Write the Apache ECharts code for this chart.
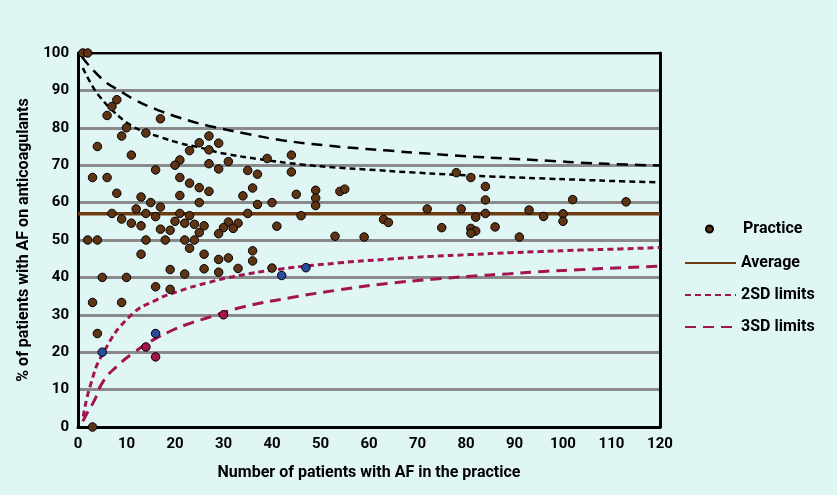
<!DOCTYPE html>
<html>
<head>
<meta charset="utf-8">
<script src="https://cdn.jsdelivr.net/npm/echarts@6/dist/echarts.min.js"></script>
<style>
html,body{margin:0;padding:0;background:#e0f6f5;}
#chart{width:837px;height:495px;}
</style>
</head>
<body>
<div id="chart"></div>
<script>
// ---- data ----
const xTicks = [0,10,20,30,40,50,60,70,80,90,100,110,120];
const yTicks = [0,10,20,30,40,50,60,70,80,90,100];

// practices: [number of AF patients, % on anticoagulants]
const practice = [
  [1,100],[2,100],[8,87.5],[7,85.7],[6,83.3],[17,82.4],[10,80],[14,78.6],[9,77.8],[25,76],
  [4,75],[23,73.9],[11,72.7],[21,71.4],[20,70],[16,68.75],[3,66.7],[6,66.7],[21,66.7],[23,65.2],
  [25,64],[8,62.5],[13,61.5],[21,61.9],[15,60],[25,60],[17,58.8],[12,58.3],[7,57.1],[14,57.1],
  [21,57.1],[23,56.5],[16,56.25],[9,55.6],[11,54.5],[13,53.8],[20,55],[22,54.5],[24,54.2],[26,53.8],
  [17,52.9],[19,52.6],[25,52],[2,50],[4,50],[14,50],[18,50],[22,50],[24,50],[23,47.8],
  [13,46.2],[26,46.2],[19,42.1],[26,42.3],[22,40.9],[5,40],[10,40],[16,37.5],[19,36.8],[3,33.3],
  [9,33.3],[4,25],[3,0],
  [27,77.8],[29,75.9],[27,74.1],[27,70.4],[31,71],[29,69],[39,71.8],[44,72.7],[44,68.2],[35,68.6],
  [37,67.6],[27,63],[36,63.9],[34,61.8],[45,62.2],[49,63.3],[49,61.2],[54,63],[55,63.6],[37,59.5],
  [40,60],[49,59.2],[35,57.1],[46,56.5],[31,54.8],[33,54.5],[30,53.3],[32,53.1],[41,53.7],[29,51.7],
  [53,51],[29,44.8],[31,45.2],[36,47.1],[36,44.4],[29,41.4],[33,42.4],[40,42.5],
  [78,68],[81,66.7],[84,64.3],[84,60.7],[84,57.1],[72,58.3],[79,58.3],[82,56.1],[63,55.5],[64,54.7],
  [75,53.3],[81,53.1],[82,52.4],[81,51.8],[86,53.5],[59,50.8],
  [102,60.8],[113,60.2],[93,58],[96,56.3],[100,57],[100,55],[91,50.8]
];
// practices between the 2SD and 3SD lower limits
const below2SD = [[5,20],[16,25],[42,40.5],[47,42.6]];
// practices below the 3SD lower limit
const below3SD = [[14,21.4],[16,18.75],[30,30]];

const average = [[0,57],[120,57]];

const upper2SD = [[1,96],[3,91.1],[4.7,88],[7.3,84.4],[11,80.6],[14,78.8],[17,77.5],[21,75.9],[24.5,74.9],
  [27,74.1],[29.3,73.3],[37.5,71.6],[46,70.2],[54,69.3],[60,68.8],[68.5,68.1],[76.7,67.5],[85,67],
  [95,66.5],[103.5,66.1],[112,65.7],[120,65.4]];
const upper3SD = [[0.8,99],[5,93],[9,89.6],[12,87.3],[16,85],[20,83.1],[24,81.5],[27,80.5],[34,78.6],
  [42,76.7],[51,75.3],[55,74.8],[64,73.9],[72,73.1],[80,72.4],[88,71.8],[97,71.2],[105,70.6],
  [113,70.2],[120,69.9]];
const lower2SD = [[1.1,2.8],[2.5,10.9],[5.2,19.8],[10.7,29.6],[16.2,34],[21,36.4],[26.5,38.5],[32,40.2],
  [41.6,42.2],[54,43.9],[64.3,44.9],[72.6,45.6],[80.8,46.1],[89.1,46.6],[95.3,46.9],[103.5,47.3],
  [111.8,47.6],[120,48]];
const lower3SD = [[1,1.5],[2,4],[3.3,6.9],[5.2,12.2],[8,16.2],[11.4,19.8],[15.5,23.3],[19,25.6],[22.4,27.4],
  [27.2,29.4],[34,32.1],[44,34.6],[54,36.7],[64,38.4],[73,39.5],[81,40.3],[89,41],[96,41.6],
  [104,42.1],[112,42.6],[120,43]];

// ---- styling ----
const FONT = 'Roboto, "DejaVu Sans", sans-serif';
const BROWN = '#5e3414';
const AVG = '#6e3c12';
const CRIMSON = '#a3154f';
const BLUE = '#2a4c9e';
const txt = {color:'#000', fontFamily:FONT, fontWeight:'bold'};

const chart = echarts.init(document.getElementById('chart'), null, {renderer:'canvas'});

function legendBox(name, left, top, w, h, hideSymbol, textPad){
  const l = {
    data:[name], left:left, top:top, orient:'vertical',
    itemWidth:w, itemHeight:h, padding:0, selectedMode:false,
    textStyle:Object.assign({fontSize:16, padding:[0,0,0,textPad||0]}, txt)
  };
  if (hideSymbol) l.itemStyle = {opacity:0};
  return l;
}

const option = {
  backgroundColor:'#e0f6f5',
  animation:false,
  grid:{left:78, right:177, top:53, bottom:68},
  legend:[
    legendBox('Practice', 705, 221, 7, 7, false, 25),
    legendBox('Average', 684, 255, 51, 14, true),
    legendBox('2SD limits', 684, 287, 51, 14, true),
    legendBox('3SD limits', 684, 319, 51, 14, true)
  ],
  xAxis:[{
    type:'value', min:xTicks[0], max:xTicks[xTicks.length-1], interval:10, position:'bottom',
    axisLine:{show:true, onZero:false, lineStyle:{color:'#000', width:3}},
    axisTick:{show:false},
    axisLabel:Object.assign({fontSize:15, margin:10}, txt),
    splitLine:{show:false},
    name:'Number of patients with AF in the practice', nameLocation:'middle', nameGap:38,
    nameTextStyle:Object.assign({fontSize:16}, txt),
    z:1
  },{
    type:'value', min:0, max:120, position:'top',
    axisLine:{show:true, onZero:false, lineStyle:{color:'#000', width:2}},
    axisTick:{show:false}, axisLabel:{show:false}, splitLine:{show:false}, z:1
  }],
  yAxis:[{
    type:'value', min:yTicks[0], max:yTicks[yTicks.length-1], interval:10, position:'left',
    axisLine:{show:true, onZero:false, lineStyle:{color:'#000', width:3}},
    axisTick:{show:false},
    axisLabel:Object.assign({fontSize:15, margin:9}, txt),
    splitLine:{show:true, lineStyle:{color:'#8a8a8a', width:3}},
    name:'% of patients with AF on anticoagulants', nameLocation:'middle', nameGap:42,
    nameTextStyle:Object.assign({fontSize:16}, txt),
    z:0
  },{
    type:'value', min:0, max:100, position:'right',
    axisLine:{show:true, onZero:false, lineStyle:{color:'#000', width:3}},
    axisTick:{show:false}, axisLabel:{show:false}, splitLine:{show:false}, z:1
  }],
  series:[
    {name:'Average', type:'line', data:average, symbol:'none', z:3,
     lineStyle:{color:AVG, width:3.5}, itemStyle:{color:AVG}},
    {name:'Upper 2SD', type:'line', data:upper2SD, symbol:'none', smooth:true, z:3,
     lineStyle:{color:'#000', width:2.5, type:[6,4]}},
    {name:'Upper 3SD', type:'line', data:upper3SD, symbol:'none', smooth:true, z:3,
     lineStyle:{color:'#000', width:2.5, type:[11,7]}},
    {name:'2SD limits', type:'line', data:lower2SD, symbol:'none', smooth:true, z:3,
     lineStyle:{color:CRIMSON, width:3, type:[6,4]}, itemStyle:{color:CRIMSON}},
    {name:'3SD limits', type:'line', data:lower3SD, symbol:'none', smooth:true, z:3,
     lineStyle:{color:CRIMSON, width:3, type:[11,7]}, itemStyle:{color:CRIMSON}},
    {name:'Practice', type:'scatter', data:practice, symbolSize:8.5, z:5, clip:false,
     itemStyle:{color:BROWN, borderColor:'#000', borderWidth:1, opacity:1}},
    {name:'Below 2SD', type:'scatter', data:below2SD, symbolSize:8.5, z:5, clip:false,
     itemStyle:{color:BLUE, borderColor:'#000', borderWidth:1, opacity:1}},
    {name:'Below 3SD', type:'scatter', data:below3SD, symbolSize:8.5, z:5, clip:false,
     itemStyle:{color:CRIMSON, borderColor:'#000', borderWidth:1, opacity:1}}
  ]
};
chart.setOption(option);
</script>
</body>
</html>
